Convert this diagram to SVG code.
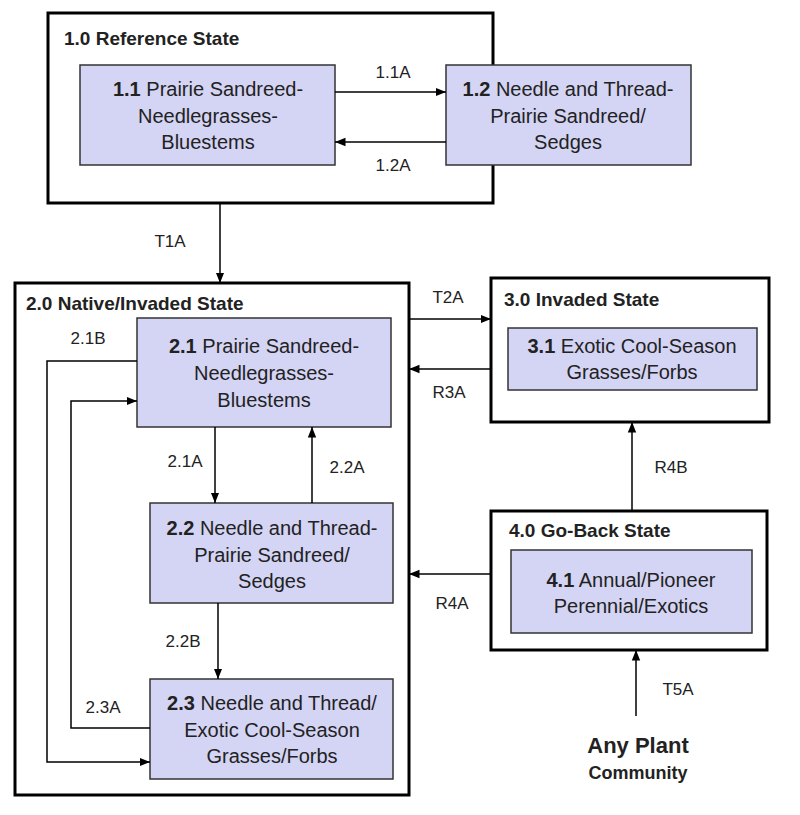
<svg xmlns="http://www.w3.org/2000/svg" width="800" height="815" viewBox="0 0 800 815">
<defs><marker id="a" viewBox="0 0 10 10" refX="10" refY="5" markerWidth="7" markerHeight="7" orient="auto"><path d="M0,1 L10,5 L0,9 z" fill="#000"/></marker></defs>
<style>
.st{fill:#fff;stroke:#000;stroke-width:3}
.cm{fill:#d4d4f4;stroke:#333;stroke-width:1.5}
text{font-family:"Liberation Sans",Arial,sans-serif;font-size:20px;fill:#222}
.t{font-weight:bold;font-size:19px}
.c{text-anchor:middle}
.l{font-size:17px}
.ln{fill:none;stroke:#000;stroke-width:1.5;marker-end:url(#a)}
</style>
<rect width="800" height="815" fill="#fff"/>
<g id="s1"><rect class="st" x="48" y="13" width="445" height="190"/><text class="t" x="64" y="45">1.0 Reference State</text></g>
<g id="n11"><rect class="cm" x="80" y="65" width="255" height="100"/><text class="c" x="208" y="96"><tspan font-weight="bold">1.1</tspan> Prairie Sandreed-</text><text class="c" x="208" y="123">Needlegrasses-</text><text class="c" x="208" y="149">Bluestems</text></g>
<g id="n12"><rect class="cm" x="446" y="65" width="245" height="100"/><text class="c" x="568" y="96"><tspan font-weight="bold">1.2</tspan> Needle and Thread-</text><text class="c" x="568" y="123">Prairie Sandreed/</text><text class="c" x="568" y="149">Sedges</text></g>
<g id="s2"><rect class="st" x="15" y="283" width="394" height="512"/><text class="t" x="26" y="310">2.0 Native/Invaded State</text></g>
<g id="n21"><rect class="cm" x="137" y="318" width="254" height="109"/><text class="c" x="264" y="353"><tspan font-weight="bold">2.1</tspan> Prairie Sandreed-</text><text class="c" x="264" y="380">Needlegrasses-</text><text class="c" x="264" y="407">Bluestems</text></g>
<g id="n22"><rect class="cm" x="150" y="503" width="243" height="100"/><text class="c" x="272" y="535"><tspan font-weight="bold">2.2</tspan> Needle and Thread-</text><text class="c" x="272" y="562">Prairie Sandreed/</text><text class="c" x="272" y="588">Sedges</text></g>
<g id="n23"><rect class="cm" x="150" y="679" width="243" height="100"/><text class="c" x="272" y="710"><tspan font-weight="bold">2.3</tspan> Needle and Thread/</text><text class="c" x="272" y="737">Exotic Cool-Season</text><text class="c" x="272" y="763">Grasses/Forbs</text></g>
<g id="s3"><rect class="st" x="491" y="278" width="278" height="144"/><text class="t" x="504" y="306">3.0 Invaded State</text></g>
<g id="n31"><rect class="cm" x="508" y="328" width="249" height="62"/><text class="c" x="632" y="353"><tspan font-weight="bold">3.1</tspan> Exotic Cool-Season</text><text class="c" x="632" y="379">Grasses/Forbs</text></g>
<g id="s4"><rect class="st" x="491" y="511" width="276" height="139"/><text class="t" x="509" y="537">4.0 Go-Back State</text></g>
<g id="n41"><rect class="cm" x="511" y="550" width="241" height="83"/><text class="c" x="631" y="587"><tspan font-weight="bold">4.1</tspan> Annual/Pioneer</text><text class="c" x="631" y="613">Perennial/Exotics</text></g>
<g id="any"><text class="c" x="638" y="753" style="font-size:22px;font-weight:bold">Any Plant</text><text class="c" x="638" y="779" style="font-size:18px;font-weight:bold">Community</text></g>
<g id="connectors">
<path class="ln" d="M335,92 H446"/><text class="c l" x="393" y="78">1.1A</text>
<path class="ln" d="M446,142 H335"/><text class="c l" x="393" y="171">1.2A</text>
<path class="ln" d="M220,203 V283"/><text class="c l" x="170" y="247">T1A</text>
<path class="ln" d="M409,319 H491"/><text class="c l" x="448" y="303">T2A</text>
<path class="ln" d="M491,369 H409"/><text class="c l" x="449" y="398">R3A</text>
<path class="ln" d="M632,511 V422"/><text class="c l" x="671" y="473">R4B</text>
<path class="ln" d="M491,574 H409"/><text class="c l" x="452" y="609">R4A</text>
<path class="ln" d="M636,716 V650"/><text class="c l" x="678" y="695">T5A</text>
<path class="ln" d="M215,427 V503"/><text class="c l" x="185" y="467">2.1A</text>
<path class="ln" d="M312,503 V427"/><text class="c l" x="347" y="473">2.2A</text>
<path class="ln" d="M218,603 V679"/><text class="c l" x="183" y="647">2.2B</text>
<path class="ln" d="M137,361 H47 V762 H150"/><text class="c l" x="88" y="344">2.1B</text>
<path class="ln" d="M150,728 H71 V401 H137"/><text class="c l" x="103" y="713">2.3A</text>
</g>
</svg>
